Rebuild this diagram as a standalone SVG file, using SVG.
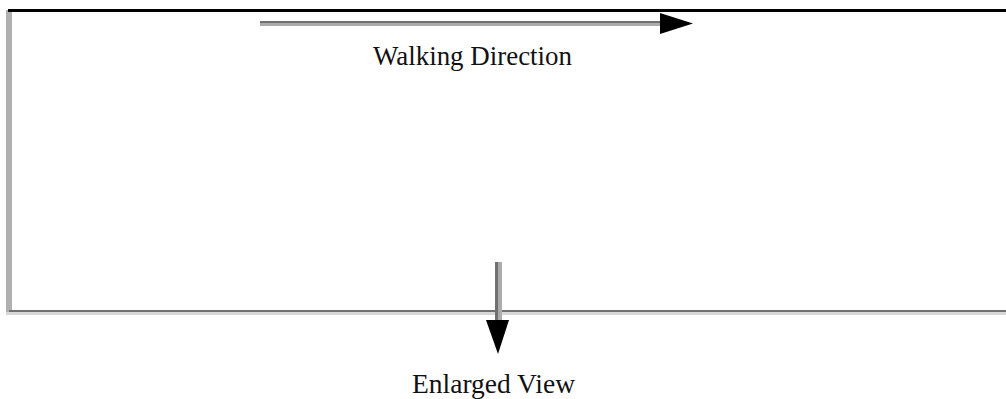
<svg xmlns="http://www.w3.org/2000/svg" width="1006" height="399" viewBox="0 0 1006 399">
  <style>
    .lbl { font-family: "Liberation Serif", "Times New Roman", serif; font-size: 27px; fill: #111; }
    .dark { fill: #707070; }
    .light { fill: #ababab; }
    .head { fill: #000; }
  </style>
  <rect width="1006" height="399" fill="#fff"/>
  <g id="walkway">
    <rect x="6" y="10" width="6" height="304" fill="#b0b0b0"/>
    <rect x="8" y="9" width="998" height="3" fill="#000"/>
    <rect x="9" y="310" width="997" height="2" fill="#707070"/>
    <rect x="6" y="312" width="1000" height="3" fill="#d8d8d8"/>
  </g>
  <g id="label-walking">
    <text class="lbl" x="373" y="65" textLength="199" lengthAdjust="spacingAndGlyphs">Walking Direction</text>
  </g>
  <g id="label-enlarged">
    <text class="lbl" x="412" y="393" textLength="163" lengthAdjust="spacingAndGlyphs">Enlarged View</text>
  </g>
  <g id="connectors">
    <g id="arrow-walking">
      <rect class="dark" x="260" y="21" width="402" height="2"/>
      <rect class="light" x="260" y="23" width="402" height="3"/>
      <polygon class="head" points="660,13 693,23.5 660,34"/>
    </g>
    <g id="arrow-enlarged">
      <rect class="dark" x="495" y="262" width="3" height="60"/>
      <rect class="light" x="498" y="262" width="4" height="60"/>
      <polygon class="head" points="486,320 509,320 498,354"/>
    </g>
  </g>
</svg>
